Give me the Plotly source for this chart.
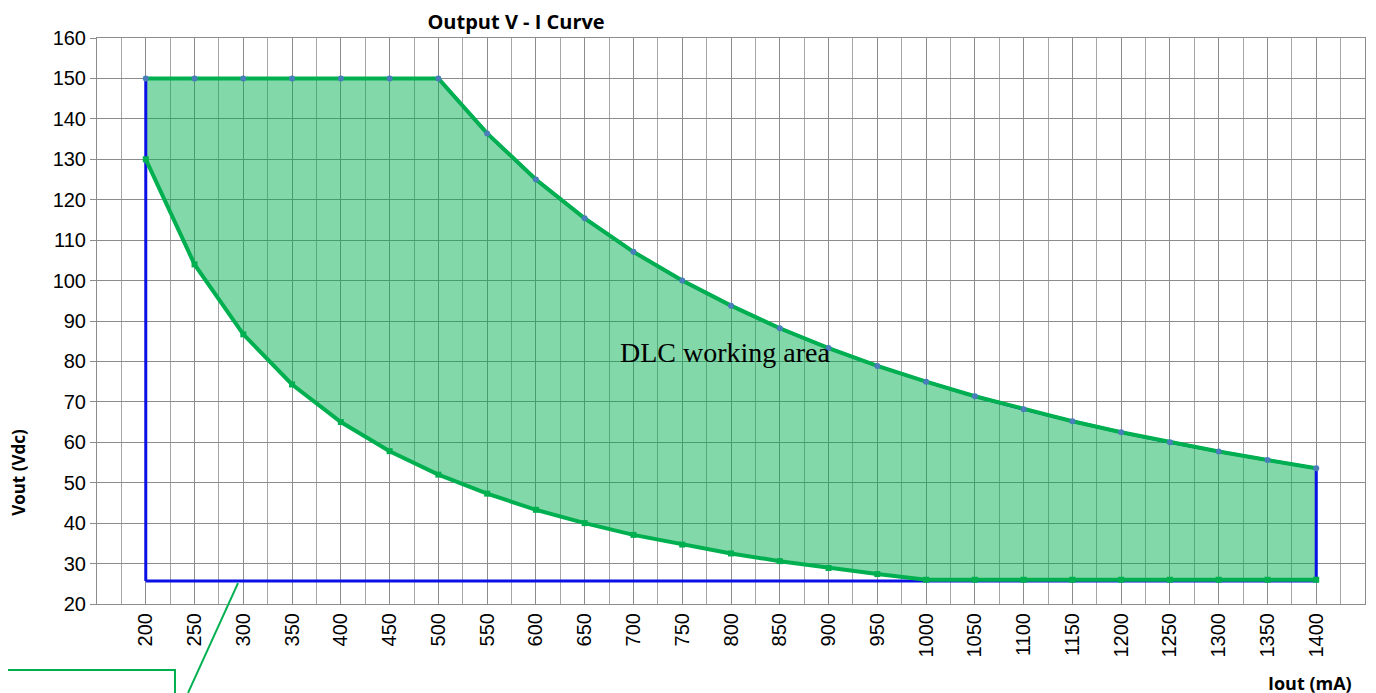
import plotly.graph_objects as go

# Output current (mA) and voltage limits (Vdc)
iout = [200, 250, 300, 350, 400, 450, 500, 550, 600, 650, 700, 750, 800,
        850, 900, 950, 1000, 1050, 1100, 1150, 1200, 1250, 1300, 1350, 1400]
v_max = [150, 150, 150, 150, 150, 150, 150, 136.4, 125, 115.4, 107.1, 100, 93.8,
         88.2, 83.3, 78.9, 75, 71.4, 68.2, 65.2, 62.5, 60, 57.7, 55.6, 53.6]
v_min = [130, 104, 86.7, 74.3, 65, 57.8, 52, 47.3, 43.3, 40, 37.1, 34.7, 32.5,
         30.6, 28.9, 27.4, 26, 26, 26, 26, 26, 26, 26, 26, 26]
v_floor = 25.7
x_ticks = list(range(200, 1401, 50))
y_ticks = list(range(20, 161, 10))

GREEN = '#00B050'
BLUE = '#0A10E6'
DOT = '#4A7EBB'

fig = go.Figure()

# green working area polygon (upper curve, then lower curve back)
fig.add_trace(go.Scatter(
    x=iout + iout[::-1], y=v_max + v_min[::-1],
    mode='lines', fill='toself', fillcolor='rgba(0,176,80,0.49)',
    line=dict(color=GREEN, width=2), hoverinfo='skip', showlegend=False))

# blue outline: left side, upper curve, right side, floor
fig.add_trace(go.Scatter(
    x=[iout[0]] + iout + [iout[-1], iout[0]],
    y=[v_floor] + v_max + [v_floor, v_floor],
    mode='lines', line=dict(color=BLUE, width=3), showlegend=False))

# thick green curves
fig.add_trace(go.Scatter(x=iout, y=v_max, mode='lines',
                         line=dict(color=GREEN, width=4), showlegend=False))
fig.add_trace(go.Scatter(x=iout, y=v_min, mode='lines+markers',
                         line=dict(color=GREEN, width=4),
                         marker=dict(symbol='square', size=6, color=GREEN),
                         showlegend=False))
# blue dots on the upper curve
fig.add_trace(go.Scatter(x=iout, y=v_max, mode='markers',
                         marker=dict(size=6, color=DOT), showlegend=False))

fig.add_annotation(x=794, y=82.3, text='DLC working area', showarrow=False,
                   font=dict(family='Liberation Serif', size=28, color='black'))

fig.add_annotation(xref='paper', yref='paper', x=-0.0625, y=0.233,
                   xanchor='center', yanchor='middle',
                   text='<b>Vout (Vdc)</b>', textangle=-90, showarrow=False,
                   font=dict(family='Open Sans', size=17, color='black'))
fig.add_annotation(xref='paper', yref='paper', x=0.9566, y=-0.1396,
                   xanchor='center', yanchor='middle',
                   text='<b>Iout (mA)</b>', showarrow=False,
                   font=dict(family='Open Sans', size=18, color='black'))

# callout box and leader line at bottom left
fig.add_shape(type='rect', xref='paper', yref='paper',
              x0=-0.09, x1=0.0615, y0=-0.2, y1=-0.1166,
              line=dict(color=GREEN, width=2))
fig.add_shape(type='line', xref='paper', yref='paper',
              x0=0.0718, y0=-0.157, x1=0.1112, y1=0.037,
              line=dict(color=GREEN, width=2))

fig.update_layout(
    width=1376, height=693,
    margin=dict(l=89, r=19, t=30, b=97),
    paper_bgcolor='white', plot_bgcolor='white',
    font=dict(family='Liberation Sans', size=20, color='black'),
    title=dict(text='<b>Output V - I Curve</b>', x=0.3305, xref='paper',
               xanchor='center', y=0.98, yanchor='middle',
               font=dict(family='Open Sans', size=20, color='black')),
    xaxis=dict(range=[150, 1450], tickvals=x_ticks, ticktext=[str(v) for v in x_ticks],
               tickangle=-90, ticks='', showgrid=True, gridcolor='#8C8C8C', gridwidth=1,
               minor=dict(dtick=25, tick0=0, showgrid=True, gridcolor='#A6A6A6', gridwidth=1),
               showline=True, linecolor='#8C8C8C', linewidth=1, mirror=True,
               zeroline=False, fixedrange=True),
    yaxis=dict(range=[20, 160], tickvals=y_ticks, ticks='outside', ticklen=6,
               tickcolor='#8C8C8C', showgrid=True, gridcolor='#8C8C8C', gridwidth=1,
               showline=True, linecolor='#8C8C8C', linewidth=1, mirror=True,
               zeroline=False, fixedrange=True),
)

fig.write_html('out.html')
